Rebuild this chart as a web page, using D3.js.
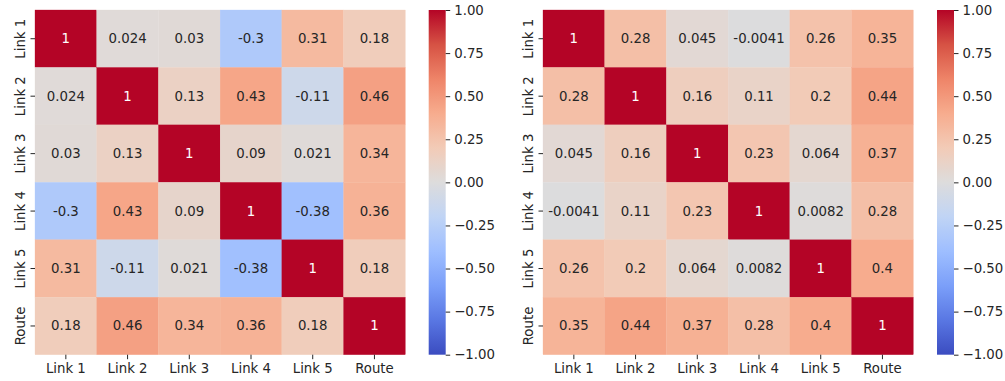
<!DOCTYPE html>
<html>
<head>
<meta charset="utf-8">
<script src="https://cdn.jsdelivr.net/npm/d3@7"></script>
<style>
  html, body { margin: 0; padding: 0; background: #fff; }
  svg { display: block; font-family: "DejaVu Sans", sans-serif; }
</style>
</head>
<body>
<svg id="chart" width="1005" height="381"></svg>
<script>
// Variable names shared by both correlation matrices
const labels = ["Link 1", "Link 2", "Link 3", "Link 4", "Link 5", "Route"];

// Correlation matrix, first panel
const corrA = [
  [1, 0.024, 0.03, -0.3, 0.31, 0.18],
  [0.024, 1, 0.13, 0.43, -0.11, 0.46],
  [0.03, 0.13, 1, 0.09, 0.021, 0.34],
  [-0.3, 0.43, 0.09, 1, -0.38, 0.36],
  [0.31, -0.11, 0.021, -0.38, 1, 0.18],
  [0.18, 0.46, 0.34, 0.36, 0.18, 1]
];

// Correlation matrix, second panel
const corrB = [
  [1, 0.28, 0.045, -0.0041, 0.26, 0.35],
  [0.28, 1, 0.16, 0.11, 0.2, 0.44],
  [0.045, 0.16, 1, 0.23, 0.064, 0.37],
  [-0.0041, 0.11, 0.23, 1, 0.0082, 0.28],
  [0.26, 0.2, 0.064, 0.0082, 1, 0.4],
  [0.35, 0.44, 0.37, 0.28, 0.4, 1]
];

// Colour bar ticks
const cbarTicks = [1.0, 0.75, 0.5, 0.25, 0.0, -0.25, -0.5, -0.75, -1.0];

// Diverging "coolwarm" palette sampled at 11 evenly spaced points
const coolwarmStops = ["#3b4cc0", "#5977e3", "#7b9ff9", "#9ebeff", "#c0d4f5", "#dddcdc",
                       "#f2cbb7", "#f7ac8e", "#ee8468", "#d65244", "#b40426"];
const coolwarm = d3.piecewise(d3.interpolateRgb, coolwarmStops);
const color = d3.scaleSequential(coolwarm).domain([-1, 1]);

// Annotation colour follows the cell's relative luminance
function luminance(c) {
  const rgb = d3.rgb(c);
  const ch = [rgb.r, rgb.g, rgb.b].map(v => {
    v /= 255;
    return v <= 0.03928 ? v / 12.92 : Math.pow((v + 0.055) / 1.055, 2.4);
  });
  return 0.2126 * ch[0] + 0.7152 * ch[1] + 0.0722 * ch[2];
}

const svg = d3.select("#chart");
const fontSize = 13.3;
const textColor = "#262626";

const defs = svg.append("defs");
const grad = defs.append("linearGradient")
  .attr("id", "cbarGrad")
  .attr("x1", 0).attr("y1", 1).attr("x2", 0).attr("y2", 0);
d3.range(0, 1.0001, 0.02).forEach(t => {
  grad.append("stop").attr("offset", t).attr("stop-color", coolwarm(t));
});

const panels = [
  { data: corrA, x0: 35, cbarX: 428.7 },
  { data: corrB, x0: 543, cbarX: 937 }
];
const plotTop = 10, plotBottom = 354.7, plotSize = 370.3;

panels.forEach(p => {
  const g = svg.append("g");
  const x = d3.scaleBand().domain(labels).range([p.x0, p.x0 + plotSize]);
  const y = d3.scaleBand().domain(labels).range([plotTop, plotBottom]);

  const cells = [];
  p.data.forEach((row, i) => row.forEach((v, j) => cells.push({ r: labels[i], c: labels[j], v })));

  g.selectAll("rect.cell").data(cells).join("rect")
    .attr("class", "cell")
    .attr("x", d => x(d.c))
    .attr("y", d => y(d.r))
    .attr("width", x.bandwidth())
    .attr("height", y.bandwidth())
    .attr("fill", d => color(d.v))
    .attr("stroke", d => color(d.v))
    .attr("stroke-width", 0.3);

  g.selectAll("text.annot").data(cells).join("text")
    .attr("class", "annot")
    .attr("x", d => x(d.c) + x.bandwidth() / 2)
    .attr("y", d => y(d.r) + y.bandwidth() / 2)
    .attr("text-anchor", "middle")
    .attr("dominant-baseline", "central")
    .attr("font-size", fontSize)
    .attr("fill", d => luminance(color(d.v)) > 0.408 ? textColor : "#ffffff")
    .text(d => String(d.v));

  // Bottom axis
  const xAxis = g.append("g")
    .attr("transform", `translate(0,${plotBottom})`)
    .call(d3.axisBottom(x).tickSize(4.5).tickPadding(4));
  xAxis.select(".domain").remove();
  xAxis.selectAll("line").attr("stroke", textColor).attr("stroke-width", 1);
  xAxis.selectAll("text").attr("font-size", fontSize).attr("fill", textColor)
    .attr("font-family", "DejaVu Sans, sans-serif");

  // Left axis with rotated labels
  const yAxis = g.append("g")
    .attr("transform", `translate(${p.x0},0)`)
    .call(d3.axisLeft(y).tickSize(4.5).tickPadding(4));
  yAxis.select(".domain").remove();
  yAxis.selectAll("line").attr("stroke", textColor).attr("stroke-width", 1);
  yAxis.selectAll("text")
    .attr("font-size", fontSize).attr("fill", textColor)
    .attr("font-family", "DejaVu Sans, sans-serif")
    .attr("x", 0).attr("dy", 0)
    .attr("text-anchor", "middle")
    .attr("transform", "translate(-10.5,0) rotate(-90)");

  // Colour bar
  const cw = 17;
  g.append("rect")
    .attr("x", p.cbarX).attr("y", plotTop)
    .attr("width", cw).attr("height", plotBottom - plotTop)
    .attr("fill", "url(#cbarGrad)");
  const cy = d3.scaleLinear().domain([-1, 1]).range([plotBottom, plotTop]);
  const cAxis = g.append("g")
    .attr("transform", `translate(${p.cbarX + cw},0)`)
    .call(d3.axisRight(cy).tickValues(cbarTicks).tickSize(4.5).tickPadding(4)
      .tickFormat(d => d3.format(".2f")(d).replace("-", "\u2212")));
  cAxis.select(".domain").remove();
  cAxis.selectAll("line").attr("stroke", textColor).attr("stroke-width", 1);
  cAxis.selectAll("text").attr("font-size", fontSize).attr("fill", textColor)
    .attr("font-family", "DejaVu Sans, sans-serif");
});
</script>
</body>
</html>
